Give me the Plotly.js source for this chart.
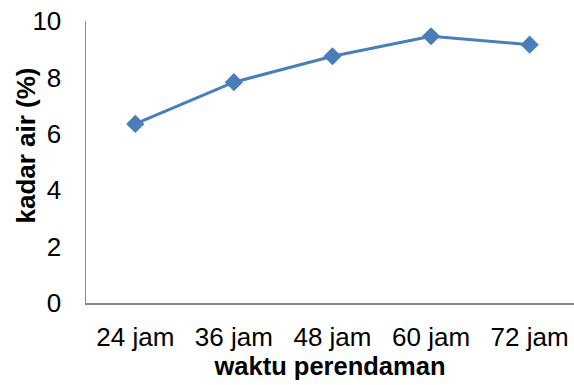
<!DOCTYPE html>
<html>
<head>
<meta charset="utf-8">
<script src="https://cdn.plot.ly/plotly-3.0.1.min.js"></script>
<style>
  html, body { margin: 0; padding: 0; background: #fff; }
  #chart { width: 574px; height: 385px; }
</style>
</head>
<body>
<div id="chart"></div>
<script>
// Soaking time categories and moisture content (%)
const categories = ['24 jam', '36 jam', '48 jam', '60 jam', '72 jam'];
const kadarAir = [6.35, 7.83, 8.75, 9.46, 9.16];
const yTicks = [0, 2, 4, 6, 8, 10];

const trace = {
  x: categories,
  y: kadarAir,
  type: 'scatter',
  mode: 'lines+markers',
  line: { color: '#4a7ebb', width: 3 },
  marker: { symbol: 'diamond', size: 14, color: '#4a7ebb' },
  cliponaxis: false,
  hoverinfo: 'skip'
};

const font = { family: 'Liberation Sans, Arial, sans-serif', color: '#000' };

const layout = {
  width: 574,
  height: 385,
  margin: { l: 86, r: 0, t: 21, b: 82 },
  paper_bgcolor: '#fff',
  plot_bgcolor: '#fff',
  showlegend: false,
  font: font,
  xaxis: {
    type: 'category',
    range: [-0.5, 4.45],
    showgrid: false,
    zeroline: false,
    showline: true,
    linecolor: '#868686',
    linewidth: 1.5,
    ticks: '',
    tickfont: { family: font.family, size: 26, color: '#000' },
    ticklabelstandoff: 10,
    title: {
      text: 'waktu perendaman',
      font: { family: font.family, size: 25.5, color: '#000', weight: 'bold' },
      standoff: 6
    }
  },
  yaxis: {
    range: [0, 10],
    tickvals: yTicks,
    showgrid: false,
    zeroline: false,
    showline: true,
    linecolor: '#868686',
    linewidth: 1.5,
    ticks: '',
    tickfont: { family: font.family, size: 26, color: '#000' },
    ticklabelstandoff: 18
  },
  // vertical y-axis title, sitting a little above the plot's middle
  annotations: [{
    text: '<b>kadar air (%)</b>',
    xref: 'paper', yref: 'paper',
    x: -0.122, y: 0.56,
    xanchor: 'center', yanchor: 'middle',
    textangle: -90,
    showarrow: false,
    font: { family: font.family, size: 26, color: '#000' }
  }]
};

Plotly.newPlot('chart', [trace], layout, { staticPlot: true, displayModeBar: false });
</script>
</body>
</html>
